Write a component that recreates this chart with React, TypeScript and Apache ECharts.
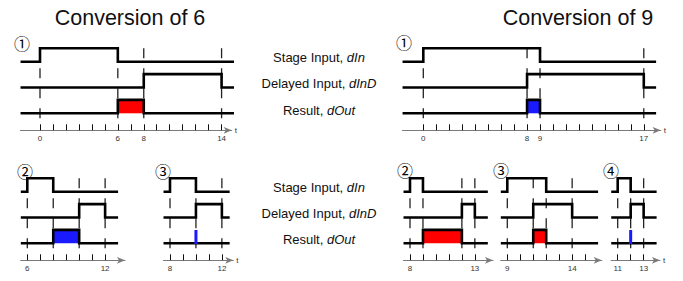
import React, { useEffect, useRef } from 'react';
import * as echarts from 'echarts';

// ---------- data ----------
const titles = ['Conversion of 6', 'Conversion of 9'];
const panelNumbers = ['①', '②', '③', '①', '②', '③', '④'];
const rowLabelText = ['Stage Input, ', 'Delayed Input, ', 'Result, '];
const rowLabelSignal = ['dIn', 'dInD', 'dOut'];

// time extent of the signal traces and of the time axis
const signalStart = [-1.5, 5.5, 7.5, -1.6, 7.5, 8.5, 10.5];
const signalEnd = [15.1, 13, 12.6, 17.95, 14, 16, 14];
const axisEnd = [14.78, 13.53, 12.88, 18.3, 14.4, 16.28, 14.26];

// Stage Input dIn: high between rise and fall
const stageInRise = [0, 6, 8, 0, 8, 9, 11];
const stageInFall = [6, 8, 10, 9, 9, 12, 12];
// Delayed Input dInD
const delayedRise = [8, 10, 10, 8, 12, 11, 12];
const delayedFall = [14, 12, 12, 17, 13, 14, 13];
// Result dOut pulse
const resultStart = [6, 8, 10, 8, 9, 11, 12];
const resultEnd = [8, 10, 10, 9, 12, 12, 12];
const resultKind = ['red', 'blue', 'blue', 'blue', 'red', 'red', 'blue'];

// axis ticks & labels
const tickFrom = [0, 6, 8, 0, 8, 9, 11];
const tickTo = [14, 12, 12, 17, 13, 15, 13];
const tickLabels = [[0, 6, 8, 14], [6, 12], [8, 12], [0, 8, 9, 17], [8, 13], [9, 14], [11, 13]];
const markerTimes = [[0, 6, 8, 14], [6, 8, 10, 12], [8, 10, 12], [0, 8, 9, 17], [8, 9, 12, 13], [9, 11, 12, 14], [11, 12, 13]];
const showTName = [true, false, true, true, false, false, true];

// signal levels (rows)
const rowBase = [2, 1, 0];
const HIGH = 0.52;

// ---------- layout ----------
const PPU = 12.97; // px per time unit
const ROW = 25.8; // px per row unit
const YMIN = -17 / ROW;
const YMAX = 2.6;
const DASH_END = -0.2;
const zeroX = [40, -50.52, 66.24, 423.3, 306.24, 390.57, 475.03];
const axisY = [130.3, 260.3, 260.3, 130.3, 260.3, 260.3, 260.3];
const numberPos = [[22, 43], [25, 171], [163, 171], [404, 42], [405, 170], [501, 170], [611, 170]];
const titlePos = [[130, 18], [578, 18]];
const labelX = 319;
const labelY = [[57, 83.5, 110], [187, 213, 239]];

const FONT = '"Liberation Sans", Arial, Helvetica, sans-serif';
const COLORS: Record<string, string> = { red: '#ff0000', blue: '#1a1aff' };

function range(a: number, b: number) {
  const r: number[] = [];
  for (let v = a; v <= b; v++) r.push(v);
  return r;
}

function pulse(base: number, s: number, e: number, r: number, f: number) {
  if (f <= r) return [[s, base], [e, base]];
  return [
    [s, base], [r, base], [r, base + HIGH], [f, base + HIGH], [f, base], [e, base],
  ];
}

function buildOption() {
  const grid: any[] = [];
  const xAxis: any[] = [];
  const yAxis: any[] = [];
  const series: any[] = [];
  const n = signalStart.length;
  const height = (YMAX - YMIN) * ROW;
  for (let i = 0; i < n; i++) {
    grid.push({
      left: zeroX[i] + signalStart[i] * PPU,
      top: axisY[i] - height,
      width: (axisEnd[i] - signalStart[i]) * PPU,
      height,
      containLabel: false,
    });
    xAxis.push({
      type: 'value',
      gridIndex: i,
      min: signalStart[i],
      max: axisEnd[i],
      name: showTName[i] ? 't' : '',
      nameLocation: 'end',
      nameGap: 3,
      nameTextStyle: { fontSize: 8, color: '#333', fontFamily: FONT },
      axisLine: {
        show: true,
        onZero: false,
        lineStyle: { color: '#7a7a7a', width: 1.2 },
        symbol: ['none', 'arrow'],
        symbolSize: [5, 8],
      },
      axisTick: {
        show: true,
        inside: true,
        length: 6,
        customValues: range(tickFrom[i], tickTo[i]),
        lineStyle: { color: '#111', width: 1 },
      },
      axisLabel: {
        show: true,
        customValues: tickLabels[i],
        fontSize: 8,
        color: '#333',
        margin: 4,
        fontFamily: FONT,
      },
      splitLine: { show: false },
    });
    yAxis.push({ type: 'value', gridIndex: i, min: YMIN, max: YMAX, show: false });

    const common = {
      type: 'line',
      xAxisIndex: i,
      yAxisIndex: i,
      symbol: 'none',
      silent: true,
      clip: false,
      animation: false,
    };
    // dashed event markers
    markerTimes[i].forEach((m) => {
      series.push({
        ...common,
        z: 1,
        data: [[m, rowBase[0] + HIGH], [m, DASH_END]],
        lineStyle: { color: '#222', width: 1.3, type: [10, 10] },
      });
    });
    // result fill
    const rc = COLORS[resultKind[i]];
    if (resultEnd[i] > resultStart[i]) {
      series.push({
        ...common,
        z: 2,
        data: [[resultStart[i], 0], [resultStart[i], HIGH], [resultEnd[i], HIGH], [resultEnd[i], 0]],
        lineStyle: { width: 0, opacity: 0 },
        areaStyle: { color: rc, opacity: 1 },
      });
    }
    const lineStyle = { color: '#000', width: 2.6, join: 'miter', cap: 'butt' };
    series.push({
      ...common, z: 3,
      data: pulse(rowBase[0], signalStart[i], signalEnd[i], stageInRise[i], stageInFall[i]),
      lineStyle,
    });
    series.push({
      ...common, z: 3,
      data: pulse(rowBase[1], signalStart[i], signalEnd[i], delayedRise[i], delayedFall[i]),
      lineStyle,
    });
    series.push({
      ...common, z: 3,
      data: pulse(rowBase[2], signalStart[i], signalEnd[i], resultStart[i], resultEnd[i]),
      lineStyle,
    });
    if (resultEnd[i] <= resultStart[i]) {
      series.push({
        ...common, z: 4,
        data: [[resultStart[i], -0.03], [resultStart[i], HIGH]],
        lineStyle: { color: rc, width: 3, cap: 'butt' },
      });
    }
  }

  const graphic: any[] = [];
  titles.forEach((t, k) => {
    graphic.push({
      type: 'text',
      x: titlePos[k][0],
      y: titlePos[k][1],
      style: {
        text: t,
        fontSize: 21.5,
        fontFamily: FONT,
        fill: '#111',
        textAlign: 'center',
        textVerticalAlign: 'middle',
      },
    });
  });
  labelY.forEach((ys) => {
    ys.forEach((y, r) => {
      graphic.push({
        type: 'text',
        x: labelX,
        y,
        style: {
          text: rowLabelText[r] + '{i|' + rowLabelSignal[r] + '}',
          rich: { i: { fontStyle: 'italic', fontSize: 13, fontFamily: FONT, fill: '#111' } },
          fontSize: 13,
          fontFamily: FONT,
          fill: '#111',
          textAlign: 'center',
          textVerticalAlign: 'middle',
        },
      });
    });
  });
  panelNumbers.forEach((c, i) => {
    graphic.push({
      type: 'text',
      x: numberPos[i][0],
      y: numberPos[i][1],
      style: {
        text: c,
        fontSize: 16,
        fontFamily: '"Noto Sans CJK JP", "DejaVu Sans", sans-serif',
        fill: '#000',
        textAlign: 'center',
        textVerticalAlign: 'middle',
      },
    });
  });

  return {
    animation: false,
    backgroundColor: '#ffffff',
    grid,
    xAxis,
    yAxis,
    series,
    graphic,
  };
}

export default function App() {
  const ref = useRef<HTMLDivElement>(null);
  useEffect(() => {
    document.body.style.margin = '0';
    if (!ref.current) return;
    const chart = echarts.init(ref.current, undefined, { renderer: 'svg' });
    chart.setOption(buildOption() as any);
    return () => chart.dispose();
  }, []);
  return <div ref={ref} style={{ width: 683, height: 281 }} />;
}
